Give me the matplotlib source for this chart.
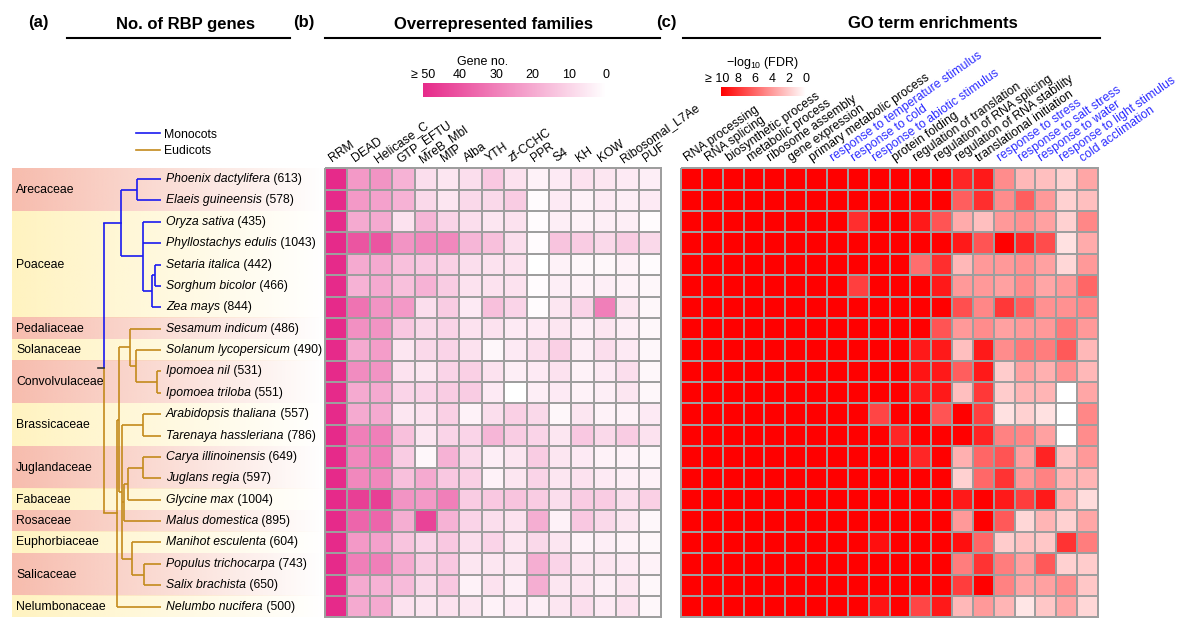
import numpy as np
import matplotlib.pyplot as plt
from matplotlib.colors import LinearSegmentedColormap, to_rgb
from matplotlib.lines import Line2D
from matplotlib.transforms import ScaledTranslation

plt.rcParams['font.family'] = ['Liberation Sans', 'DejaVu Sans']

# ---- data ----
species = ['Phoenix dactylifera', 'Elaeis guineensis', 'Oryza sativa', 'Phyllostachys edulis',
           'Setaria italica', 'Sorghum bicolor', 'Zea mays', 'Sesamum indicum',
           'Solanum lycopersicum', 'Ipomoea nil', 'Ipomoea triloba', 'Arabidopsis thaliana',
           'Tarenaya hassleriana', 'Carya illinoinensis', 'Juglans regia', 'Glycine max',
           'Malus domestica', 'Manihot esculenta', 'Populus trichocarpa', 'Salix brachista',
           'Nelumbo nucifera']
rbp_counts = [613, 578, 435, 1043, 442, 466, 844, 486, 490, 531, 551, 557, 786, 649, 597,
              1004, 895, 604, 743, 650, 500]

families = ['Arecaceae', 'Poaceae', 'Pedaliaceae', 'Solanaceae', 'Convolvulaceae',
            'Brassicaceae', 'Juglandaceae', 'Fabaceae', 'Rosaceae', 'Euphorbiaceae',
            'Salicaceae', 'Nelumbonaceae']
family_first = [0, 2, 7, 8, 9, 11, 13, 15, 16, 17, 18, 20]
family_last = [1, 6, 7, 8, 10, 12, 14, 15, 16, 17, 19, 20]

# clades: (node depth, children); ints are leaf rows
monocots = (121, [(137, [0, 1]),
                  (143, [2, 3, (152, [(155, [4, 5]), 6])])])
eudicots = (117, [(119, [(130, [7, (136, [8, (157, [9, 10])])]),
                         (122, [(143, [11, 12]),
                                (124, [(128, [(143, [13, 14]), 15]), 16]),
                                (132, [17, (144, [18, 19])])])]),
                  20])
root_depth = 104

domains = ['RRM', 'DEAD', 'Helicase_C', 'GTP_EFTU', 'MreB_Mbl', 'MIP', 'Alba', 'YTH',
           'zf-CCHC', 'PPR', 'S4', 'KH', 'KOW', 'Ribosomal_L7Ae', 'PUF']
domain_counts = np.array([
    [50, 24, 25, 18, 8, 6, 8, 13, 7, 3, 5, 7, 6, 5, 4],
    [50, 24, 22, 18, 9, 6, 9, 9, 12, 1, 5, 3, 5, 4, 5],
    [50, 20, 20, 7, 17, 10, 8, 6, 7, 1, 4, 3, 4, 4, 1],
    [50, 40, 40, 25, 28, 28, 17, 15, 8, 1, 14, 12, 9, 12, 9],
    [50, 20, 20, 15, 13, 11, 8, 7, 7, 0, 3, 2, 2, 3, 1],
    [50, 18, 20, 15, 18, 12, 7, 7, 7, 1, 4, 3, 4, 3, 2],
    [50, 33, 25, 24, 8, 12, 5, 15, 10, 1, 6, 10, 30, 6, 2],
    [50, 26, 25, 13, 9, 10, 7, 7, 5, 5, 6, 4, 6, 4, 2],
    [50, 20, 23, 6, 9, 10, 7, 2, 5, 8, 11, 4, 8, 5, 2],
    [50, 27, 25, 7, 6, 10, 11, 7, 4, 5, 7, 3, 5, 8, 2],
    [50, 20, 20, 10, 10, 12, 12, 5, 0, 4, 5, 3, 4, 6, 2],
    [50, 20, 20, 6, 7, 11, 3, 8, 11, 9, 2, 6, 3, 3, 5],
    [50, 30, 30, 15, 6, 10, 10, 17, 12, 10, 6, 13, 9, 12, 7],
    [50, 28, 30, 12, 2, 18, 9, 4, 6, 12, 6, 5, 3, 3, 2],
    [50, 28, 28, 15, 20, 13, 11, 3, 6, 10, 6, 7, 5, 4, 3],
    [50, 45, 45, 25, 24, 30, 12, 13, 14, 12, 8, 12, 12, 8, 11],
    [50, 36, 36, 19, 44, 18, 10, 8, 7, 19, 3, 13, 9, 6, 2],
    [50, 24, 22, 14, 10, 13, 8, 10, 6, 9, 6, 3, 4, 3, 2],
    [50, 30, 30, 20, 12, 13, 6, 6, 6, 19, 10, 6, 6, 5, 3],
    [50, 20, 18, 16, 9, 13, 3, 7, 4, 19, 6, 6, 4, 6, 2],
    [50, 20, 20, 7, 6, 7, 6, 3, 5, 4, 6, 8, 5, 7, 2],
])

go_terms = ['RNA processing', 'RNA splicing', 'biosynthetic process', 'metabolic process',
            'ribosome assembly', 'gene expression', 'primary metabolic process',
            'response to temperature stimulus', 'response to cold',
            'response to abiotic stimulus', 'protein folding', 'regulation of translation',
            'regulation of RNA splicing', 'regulation of RNA stability',
            'translational initiation', 'response to stress', 'response to salt stress',
            'response to water', 'response to light stimulus', 'cold acclimation']
go_stress = [0, 0, 0, 0, 0, 0, 0, 1, 1, 1, 0, 0, 0, 0, 0, 1, 1, 1, 1, 1]
go_fdr = np.array([
    [10, 10, 10, 10, 10, 10, 10, 10, 10, 10, 10, 10, 10, 8.5, 9, 4.5, 2.8, 2.5, 1.8, 3.5],
    [10, 10, 10, 10, 10, 10, 10, 10, 10, 10, 10, 10, 10, 6.3, 8.2, 4.5, 6.3, 4, 1.8, 2.5],
    [10, 10, 10, 10, 10, 10, 10, 10, 8.2, 10, 10, 9, 6.7, 3.3, 2.5, 4, 4.3, 3.7, 1.8, 4.7],
    [10, 10, 10, 10, 10, 10, 10, 10, 10, 10, 10, 10, 10, 9, 6.7, 10, 8.5, 7, 1.2, 3.3],
    [10, 10, 10, 10, 10, 10, 10, 10, 10, 10, 10, 5.7, 8.2, 2.8, 4, 4, 4.3, 3.7, 1.6, 4],
    [10, 10, 10, 10, 10, 10, 10, 10, 7.5, 10, 10, 10, 9, 4, 4, 3.7, 4.5, 3.5, 4, 6],
    [10, 10, 10, 10, 10, 10, 10, 10, 10, 10, 10, 10, 10, 6.9, 4.7, 7.8, 6.3, 4.3, 4.3, 4.7],
    [10, 10, 10, 10, 10, 10, 10, 10, 10, 10, 10, 10, 6.7, 4, 4.5, 3.7, 4, 4, 5.3, 4],
    [10, 10, 10, 10, 10, 10, 10, 10, 10, 10, 10, 9, 9, 2.5, 9, 4.5, 5.3, 5.1, 6.5, 2.8],
    [10, 10, 10, 10, 10, 10, 10, 10, 10, 10, 10, 9.2, 9, 6.3, 9, 2, 3.7, 3.1, 4.3, 2.8],
    [10, 10, 10, 10, 10, 10, 10, 10, 10, 10, 10, 9, 9, 2.5, 7.8, 2, 2.9, 2.9, 0, 3.5],
    [10, 10, 10, 10, 10, 10, 10, 10, 10, 7.3, 10, 10, 6.7, 10, 7.5, 1.2, 1.8, 1.2, 0, 4.7],
    [10, 10, 10, 10, 10, 10, 10, 10, 10, 10, 8.5, 10, 10, 10, 8.6, 4.9, 4.7, 3.7, 0, 4.5],
    [10, 10, 10, 10, 10, 10, 10, 10, 10, 10, 10, 8.5, 10, 3.1, 6, 6.7, 3.7, 8.6, 2.4, 4],
    [10, 10, 10, 10, 10, 10, 10, 10, 10, 10, 10, 10, 10, 1.8, 5.9, 8, 4, 4.9, 2.9, 2.9],
    [10, 10, 10, 10, 10, 10, 10, 10, 10, 10, 10, 10, 10, 9, 10, 9, 7.6, 9, 2.9, 1.4],
    [10, 10, 10, 10, 10, 10, 10, 10, 10, 10, 10, 10, 10, 4, 10, 6.5, 1.6, 2.9, 1.8, 3.5],
    [10, 10, 10, 10, 10, 10, 10, 10, 10, 9.4, 10, 10, 10, 9.4, 6, 2, 2.4, 2.2, 8, 5.1],
    [10, 10, 10, 10, 10, 10, 10, 10, 10, 10, 10, 10, 10, 5.1, 8, 5.1, 3.7, 6.5, 1.8, 2],
    [10, 10, 10, 10, 10, 10, 10, 10, 10, 10, 10, 10, 10, 7.6, 10, 4.9, 3.5, 3.7, 4.5, 2.2],
    [10, 10, 10, 10, 10, 10, 10, 10, 10, 9.2, 10, 7.3, 9, 2.8, 4, 2.9, 1, 2.2, 3.5, 1.6],
])

# ---- layout (pixels) ----
W, H = 1189, 621
TOP, BOTTOM = 168.3, 617.3
B_LEFT, B_RIGHT = 325, 661
C_LEFT, C_RIGHT = 681, 1098
LEAF_END = 161
FS = 8.8
MONO_COL = '#1A1AF0'
EUDI_COL = '#C38A1C'
GRID_COL = '#9E9E9E'


def box(x0, y0, x1, y1):
    return [x0 / W, 1 - y1 / H, (x1 - x0) / W, (y1 - y0) / H]


def fx(x):
    return x / W


def fy(y):
    return 1 - y / H


def draw_clade(ax, node, color):
    if isinstance(node, (int, np.integer)):
        return float(node), LEAF_END
    x, kids = node
    ys = []
    for k in kids:
        ky, kx = draw_clade(ax, k, color)
        ax.plot([x, kx], [ky, ky], color=color, lw=1.2, solid_capstyle='butt')
        ys.append(ky)
    ax.plot([x, x], [ys[0], ys[-1]], color=color, lw=1.2, solid_capstyle='butt')
    return (ys[0] + ys[-1]) / 2, x


fig = plt.figure(figsize=(W / 100, H / 100), dpi=100)
n_rows = len(species)

# ---- (a) tree ----
ax_t = fig.add_axes(box(0, TOP, B_LEFT, BOTTOM))
band_cols = ['#F7BCAD', '#FFF3C0']
for k, (fam, r0, r1) in enumerate(zip(families, family_first, family_last)):
    rgb = to_rgb(band_cols[k % 2])
    grad = np.zeros((1, 256, 4))
    grad[..., :3] = rgb
    grad[..., 3] = np.linspace(1, 0, 256)
    ax_t.imshow(grad, extent=(12, B_LEFT, r1 + 0.5, r0 - 0.5), aspect='auto',
                interpolation='bilinear')
    ax_t.text(16, (r0 + r1) / 2, fam, va='center', ha='left', fontsize=FS)

mono_y, mono_x = draw_clade(ax_t, monocots, MONO_COL)
eudi_y, eudi_x = draw_clade(ax_t, eudicots, EUDI_COL)
root_y = (mono_y + eudi_y) / 2
ax_t.plot([root_depth, mono_x], [mono_y, mono_y], color=MONO_COL, lw=1.2)
ax_t.plot([root_depth, eudi_x], [eudi_y, eudi_y], color=EUDI_COL, lw=1.2)
ax_t.plot([root_depth, root_depth], [mono_y, root_y], color=MONO_COL, lw=1.2,
          solid_capstyle='butt')
ax_t.plot([root_depth, root_depth], [root_y, eudi_y], color=EUDI_COL, lw=1.2,
          solid_capstyle='butt')
ax_t.plot([root_depth - 6, root_depth], [root_y, root_y], color='#333333', lw=1.2)

for i, (sp, n) in enumerate(zip(species, rbp_counts)):
    t = ax_t.text(166, i, sp, style='italic', va='center', ha='left', fontsize=FS)
    ax_t.annotate(' (%d)' % n, xy=(1, 0), xycoords=t, va='bottom', ha='left', fontsize=FS)

ax_t.set_xlim(0, B_LEFT)
ax_t.set_ylim(n_rows - 0.5, -0.5)
ax_t.axis('off')

handles = [Line2D([], [], color=MONO_COL, lw=1.2), Line2D([], [], color=EUDI_COL, lw=1.2)]
ax_t.legend(handles, ['Monocots', 'Eudicots'], loc='lower left', frameon=False,
            bbox_to_anchor=(136 / B_LEFT, (BOTTOM - 157) / (BOTTOM - TOP)),
            borderpad=0, borderaxespad=0, handlelength=2.0, handletextpad=0.3,
            labelspacing=0.35, fontsize=FS)

# ---- (b) domain heatmap ----
gene_cmap = LinearSegmentedColormap.from_list('gene_no', ['#FFFFFF', '#E62A8A'])
ax_b = fig.add_axes(box(B_LEFT, TOP, B_RIGHT, BOTTOM))
mesh_b = ax_b.pcolormesh(domain_counts, cmap=gene_cmap, vmin=0, vmax=50,
                         edgecolors=GRID_COL, linewidth=1.25)
mesh_b.set_clip_on(False)
ax_b.set_xlim(0, len(domains))
ax_b.set_ylim(n_rows, 0)
ax_b.axis('off')
for j, name in enumerate(domains):
    ax_b.text(j + 0.33, -0.28, name, rotation=35, rotation_mode='anchor',
              ha='left', va='baseline', fontsize=FS)

cax_b = fig.add_axes(box(423, 83, 606, 97))
cb_b = fig.colorbar(mesh_b, cax=cax_b, orientation='horizontal')
cb_b.outline.set_visible(False)
cb_b.set_ticks([50, 40, 30, 20, 10, 0])
cb_b.set_ticklabels(['\u2265 50', '40', '30', '20', '10', '0'])
cax_b.xaxis.set_ticks_position('top')
cax_b.tick_params(length=0, labelsize=9, pad=1.5)
cax_b.invert_xaxis()
fig.text(fx(483), fy(62), 'Gene no.', ha='center', va='center', fontsize=9)

# ---- (c) GO heatmap ----
fdr_cmap = LinearSegmentedColormap.from_list('fdr', ['#FFFFFF', '#FF0000'])
ax_c = fig.add_axes(box(C_LEFT, TOP, C_RIGHT, BOTTOM))
mesh_c = ax_c.pcolormesh(go_fdr, cmap=fdr_cmap, vmin=0, vmax=10,
                         edgecolors=GRID_COL, linewidth=1.25)
mesh_c.set_clip_on(False)
ax_c.set_xlim(0, len(go_terms))
ax_c.set_ylim(n_rows, 0)
ax_c.axis('off')
for j, (name, stress) in enumerate(zip(go_terms, go_stress)):
    ax_c.text(j + 0.3, -0.3, name, rotation=35, rotation_mode='anchor',
              ha='left', va='baseline', fontsize=FS,
              color='#2B2BFF' if stress else 'black')

cax_c = fig.add_axes(box(721, 87, 806, 96))
cb_c = fig.colorbar(mesh_c, cax=cax_c, orientation='horizontal')
cb_c.outline.set_visible(False)
cb_c.set_ticks([10, 8, 6, 4, 2, 0])
cb_c.set_ticklabels(['\u2265 10', '8', '6', '4', '2', '0'])
cax_c.xaxis.set_ticks_position('top')
cax_c.tick_params(length=0, labelsize=9, pad=1.5)
cax_c.invert_xaxis()
# keep the "≥ 10" label clear of its neighbour
first = cax_c.get_xticklabels()[0]
first.set_ha('right')
first.set_transform(first.get_transform() + ScaledTranslation(6 / 72, 0, fig.dpi_scale_trans))
fig.text(fx(762), fy(63), r'$\mathregular{-log_{10}}$ (FDR)', ha='center', va='center',
         fontsize=9)

# ---- panel headings ----
for lab, lx, title, tx, x0, x1 in [('(a)', 38, 'No. of RBP genes', 186, 67, 290),
                                   ('(b)', 304, 'Overrepresented families', 493, 325, 660),
                                   ('(c)', 666, 'GO term enrichments', 933, 683, 1100)]:
    fig.text(fx(lx), fy(22), lab, ha='center', va='center', fontsize=12, fontweight='bold')
    fig.text(fx(tx), fy(24), title, ha='center', va='center', fontsize=12,
             fontweight='bold')
    fig.add_artist(Line2D([fx(x0), fx(x1)], [fy(38), fy(38)], color='black', lw=1.5))

fig.savefig('out.png', dpi=100)
